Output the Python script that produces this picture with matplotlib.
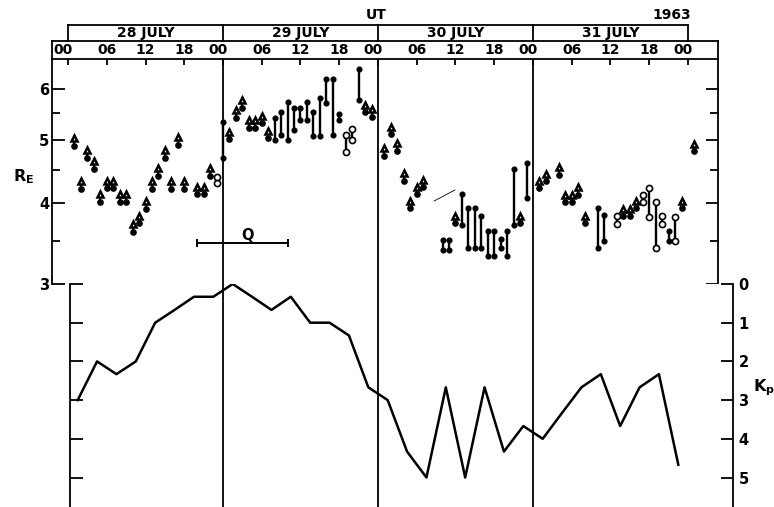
import numpy as np
import matplotlib.pyplot as plt
from matplotlib.transforms import ScaledTranslation, blended_transform_factory

W, H, DPI = 774, 507, 100

# time axis: hours from 00 UT 28 July 1963
# geocentric distance (R_E) of the observations
arrow_t = [1, 2, 3, 4, 5, 6, 7, 8, 9, 10, 11, 12, 13, 14, 15, 16, 17, 18, 20, 21, 22,
           25, 26, 27, 28, 29, 30, 31, 46, 47,
           49, 50, 51, 52, 53, 54, 55, 60, 70,
           73, 74, 76, 77, 78, 79, 80, 86, 87, 88, 95, 97]
arrow_r = [4.90, 4.21, 4.70, 4.52, 4.02, 4.22, 4.22, 4.02, 4.02, 3.61, 3.72, 3.92, 4.21, 4.41,
           4.70, 4.21, 4.92, 4.21, 4.13, 4.13, 4.41,
           5.02, 5.42, 5.61, 5.23, 5.23, 5.31, 5.04, 5.52, 5.44,
           4.73, 5.11, 4.82, 4.33, 3.93, 4.13, 4.23, 3.72, 3.72,
           4.22, 4.32, 4.42, 4.01, 4.01, 4.12, 3.72, 3.82, 3.82, 3.93, 3.93, 4.81]

bar_t = [24, 32, 33, 34, 35, 36, 37, 38, 39, 40, 41, 42, 45,
         58, 59, 61, 62, 63, 64, 65, 66, 67, 68, 69, 71,
         82, 83, 93]
bar_lo = [4.69, 5.01, 5.10, 5.01, 5.19, 5.37, 5.37, 5.08, 5.08, 5.70, 5.10, 5.37, 5.78,
          3.39, 3.39, 3.70, 3.41, 3.41, 3.41, 3.31, 3.31, 3.41, 3.31, 3.70, 4.08,
          3.41, 3.50, 3.50]
bar_hi = [5.34, 5.42, 5.52, 5.72, 5.61, 5.61, 5.72, 5.52, 5.82, 6.21, 6.21, 5.49, 6.44,
          3.51, 3.51, 4.13, 3.93, 3.93, 3.82, 3.62, 3.62, 3.52, 3.62, 4.51, 4.62,
          3.93, 3.83, 3.62]

open_t = [23, 43, 44, 85, 89, 90, 91, 92, 94]
open_lo = [4.29, 4.79, 5.01, 3.71, 4.02, 3.81, 3.41, 3.71, 3.50]
open_hi = [4.39, 5.10, 5.21, 3.82, 4.12, 4.22, 4.02, 3.82, 3.81]

# 3-hourly Kp index
kp_t = np.arange(1.5, 96, 3)
kp = [3.0, 2.0, 2.33, 2.0, 1.0, 0.67, 0.33, 0.33,
      0.0, 0.33, 0.67, 0.33, 1.0, 1.0, 1.33, 2.67,
      3.0, 4.33, 5.0, 2.67, 5.0, 2.67, 4.33, 3.67,
      4.0, 3.33, 2.67, 2.33, 3.67, 2.67, 2.33, 4.67]

day_labels = ['28 JULY', '29 JULY', '30 JULY', '31 JULY']
hour_ticks = list(range(0, 97, 6))
hour_labels = ['00', '06', '12', '18'] * 4 + ['00']
q_span = (20, 34)

FS = 10
LW = 1.3
plt.rcParams['font.family'] = 'DejaVu Sans'
plt.rcParams['font.weight'] = 'bold'
plt.rcParams['mathtext.default'] = 'bf'

x0_px, pph = 68, 620 / 96     # pixel of 00 UT 28 July, pixels per hour


def hx(px):
    return (px - x0_px) / pph


fig = plt.figure(figsize=(W / DPI, H / DPI), dpi=DPI)

# ---- upper panel: R_E (log scale)
ax1 = fig.add_axes([52 / W, 1 - 284 / H, 666 / W, 225 / H])
ax1.set_yscale('log')
for s in ['left', 'right', 'top']:
    ax1.spines[s].set_linewidth(LW)
ax1.spines['bottom'].set_visible(False)

for d in (24, 48, 72):
    ax1.axvline(d, color='k', lw=LW)

# arrow symbols: dot + stem + arrow head
off = lambda dy: ax1.transData + ScaledTranslation(0, dy / DPI, fig.dpi_scale_trans)
ax1.plot(arrow_t, arrow_r, 'o', color='k', ms=3.8, ls='none')
ax1.plot(arrow_t, arrow_r, '|', color='k', ms=4, mew=1.6, ls='none', transform=off(3.5))
ax1.plot(arrow_t, arrow_r, '^', mfc='white', mec='k', ms=4.4, mew=1.8, ls='none',
         transform=off(7.5))

# range bars
ax1.vlines(bar_t, bar_lo, bar_hi, color='k', lw=1.7)
ax1.plot(bar_t, bar_lo, 'o', color='k', ms=3.4, ls='none')
ax1.plot(bar_t, bar_hi, 'o', color='k', ms=3.4, ls='none')

ax1.vlines(open_t, open_lo, open_hi, color='k', lw=1.7)
ax1.plot(open_t, open_lo, 'o', mfc='white', mec='k', mew=1.2, ms=4.4, ls='none')
ax1.plot(open_t, open_hi, 'o', mfc='white', mec='k', mew=1.2, ms=4.4, ls='none')

# quiet interval
ax1.plot(q_span, [3.47, 3.47], color='k', lw=1.4, marker='|', ms=6, mew=1.4)
ax1.text(np.mean(q_span) + 0.8, 3.57, 'Q', ha='center', va='center', fontsize=FS + 0.5)
ax1.plot([56.7, 59.9], [4.03, 4.19], color='k', lw=0.6)

ax1.set_xlim(hx(52), hx(718))
ax1.set_ylim(3, 3 * np.exp(225 / 281.3))
ax1.set_yticks([3, 4, 5, 6])
ax1.set_yticklabels(['3', '4', '5', '6'])
ax1.set_yticks([3.5, 4.5, 5.5], minor=True)
ax1.yaxis.set_minor_formatter(plt.NullFormatter())
ax1.tick_params(axis='y', which='both', direction='in', left=True, right=True,
                width=LW, labelsize=FS + 0.5, pad=2)
ax1.tick_params(axis='y', which='major', length=9)
ax1.tick_params(axis='y', which='minor', length=6)
ax1.set_xticks(hour_ticks)
ax1.tick_params(axis='x', which='both', direction='in', top=True, bottom=False,
                labeltop=False, labelbottom=False, length=4.5, width=LW)

# header boxes (hours and dates)
ta = ax1.transAxes
bt = blended_transform_factory(ax1.transData, ax1.transAxes)
y_hour_top = (284 - 41) / 225
y_date_top = (284 - 25) / 225
ax1.plot([0, 1], [y_hour_top] * 2, color='k', lw=LW, transform=ta, clip_on=False)
ax1.plot([0, 0], [1, y_hour_top], color='k', lw=LW, transform=ta, clip_on=False)
ax1.plot([1, 1], [1, y_hour_top], color='k', lw=LW, transform=ta, clip_on=False)
ax1.plot([0, 96], [y_date_top] * 2, color='k', lw=LW, transform=bt, clip_on=False)
for d in range(0, 97, 24):
    ax1.plot([d, d], [y_hour_top, y_date_top], color='k', lw=LW, transform=bt,
             clip_on=False)
for i, lab in enumerate(day_labels):
    ax1.text(12 + 24 * i, (284 - 33) / 225, lab, transform=bt, ha='center',
             va='center', fontsize=FS)
for t, lab in zip(hour_ticks, hour_labels):
    dx = -0.7 if lab == '00' else 0
    ax1.text(t + dx, (284 - 50) / 225, lab, transform=bt, ha='center', va='center',
             fontsize=FS)

fig.text(376.5 / W, 1 - 15 / H, 'UT', ha='center', va='center', fontsize=FS)
fig.text(672 / W, 1 - 15 / H, '1963', ha='center', va='center', fontsize=FS)
fig.text(24 / W, 1 - 177 / H, r'$\mathregular{R_E}$', ha='center', va='center',
         fontsize=FS + 1.5)

# ---- lower panel: Kp
ax2 = fig.add_axes([70 / W, 0, 663 / W, 223 / H])
ax2.spines['top'].set_visible(False)
ax2.spines['bottom'].set_visible(False)
for s in ['left', 'right']:
    ax2.spines[s].set_linewidth(LW)
for d in (24, 48, 72):
    ax2.axvline(d, color='k', lw=LW)
ax2.plot(kp_t, kp, color='k', lw=1.8)
ax2.set_xlim(hx(70), hx(733))
ax2.set_ylim(223 / 38.7, 0)
ax2.set_xticks([])
ax2.set_yticks(range(6))
ax2.tick_params(axis='y', direction='in', left=True, right=True, labelleft=False,
                labelright=True, length=9, width=LW, labelsize=FS + 0.5, pad=4)
fig.text(764 / W, 1 - 388 / H, r'$\mathregular{K_p}$', ha='center', va='center',
         fontsize=FS + 1.5)

fig.savefig('out.png', dpi=DPI)
